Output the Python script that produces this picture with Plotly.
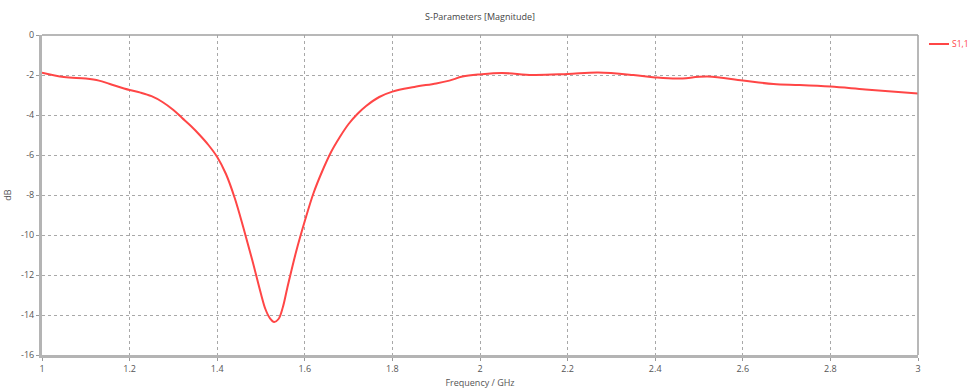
import plotly.graph_objects as go

freq_ghz = [1.00, 1.05, 1.10, 1.13, 1.155, 1.20, 1.225, 1.25, 1.275, 1.30, 1.32, 1.34,
            1.36, 1.38, 1.40, 1.42, 1.44, 1.46, 1.48, 1.50, 1.51, 1.52, 1.53, 1.54,
            1.55, 1.56, 1.58, 1.60, 1.62, 1.64, 1.66, 1.68, 1.70, 1.72, 1.74, 1.77,
            1.80, 1.85, 1.90, 1.93, 1.96, 2.00, 2.05, 2.12, 2.20, 2.27, 2.35, 2.40,
            2.45, 2.52, 2.60, 2.67, 2.73, 2.80, 2.88, 3.00]
s11_db = [-1.88, -2.10, -2.18, -2.28, -2.45, -2.75, -2.88, -3.06, -3.35, -3.75, -4.15, -4.55,
          -5.00, -5.50, -6.10, -6.95, -8.15, -9.65, -11.25, -12.95, -13.70, -14.15, -14.35, -14.20,
          -13.60, -12.65, -10.85, -9.30, -7.90, -6.80, -5.85, -5.10, -4.45, -3.95, -3.55, -3.10,
          -2.83, -2.60, -2.42, -2.28, -2.08, -1.97, -1.90, -2.00, -1.95, -1.88, -2.00, -2.12,
          -2.18, -2.08, -2.28, -2.45, -2.50, -2.58, -2.72, -2.92]
series_name = "S1,1"

x_ticks = [1, 1.2, 1.4, 1.6, 1.8, 2, 2.2, 2.4, 2.6, 2.8, 3]
x_tick_labels = ["1", "1.2", "1.4", "1.6", "1.8", "2", "2.2", "2.4", "2.6", "2.8", "3"]
y_ticks = [0, -2, -4, -6, -8, -10, -12, -14, -16]
y_tick_labels = ["0", "-2", "-4", "-6", "-8", "-10", "-12", "-14", "-16"]

FONT = "Open Sans"
TXT = "#555555"
RED = "#ff4646"
W, H = 969, 389
ML, MR, MT, MB = 42, 51, 35, 34
PW, PH = W - ML - MR, H - MT - MB


def px_x(px):
    return (px - ML) / PW


def px_y(py):
    return (H - MB - py) / PH


fig = go.Figure()
fig.add_trace(go.Scatter(
    x=freq_ghz, y=s11_db, mode="lines", name=series_name,
    line=dict(color=RED, width=2, shape="spline", smoothing=1.0),
))

fig.update_layout(
    width=W, height=H,
    margin=dict(l=ML, r=MR, t=MT, b=MB, autoexpand=False),
    paper_bgcolor="white", plot_bgcolor="white",
    title=dict(text="S-Parameters [Magnitude]", x=0.5, xref="paper", y=1 - 17 / H,
               yref="container", xanchor="center", yanchor="middle",
               font=dict(family=FONT, size=9, color="#444444")),
    showlegend=False,
    font=dict(family=FONT, size=9, color=TXT),
)

fig.update_xaxes(
    range=[1, 3], tickvals=x_ticks, ticktext=x_tick_labels,
    showgrid=True, gridcolor="#a8a8a8", griddash="dot", gridwidth=1,
    showline=True, linecolor="#b4b4b4", linewidth=3,
    ticks="outside", ticklen=3, tickcolor="#999999",
    zeroline=False,
    title=dict(text="Frequency / GHz", standoff=10, font=dict(family=FONT, size=9, color=TXT)),
    tickfont=dict(family=FONT, size=9, color=TXT),
)
fig.update_yaxes(
    range=[-16, 0], tickvals=y_ticks, ticktext=y_tick_labels,
    showgrid=True, gridcolor="#a8a8a8", griddash="dot", gridwidth=1,
    showline=True, linecolor="#b4b4b4", linewidth=3,
    ticks="outside", ticklen=3, tickcolor="#999999",
    zeroline=False,
    title=dict(text="dB", standoff=8, font=dict(family=FONT, size=9, color=TXT)),
    tickfont=dict(family=FONT, size=9, color=TXT),
)

# thin top/right frame
fig.add_shape(type="line", xref="paper", yref="paper", x0=0, x1=1, y0=1, y1=1,
              line=dict(color="#a0a0a0", width=1.5))
fig.add_shape(type="line", xref="paper", yref="paper", x0=1, x1=1, y0=0, y1=1,
              line=dict(color="#a0a0a0", width=1.5))

# legend entry (line sample + label)
fig.add_shape(type="line", xref="paper", yref="paper",
              x0=px_x(929), x1=px_x(949), y0=px_y(44), y1=px_y(44),
              line=dict(color=RED, width=2))
fig.add_annotation(text=series_name, xref="paper", yref="paper",
                   x=px_x(951), y=px_y(44), xanchor="left", yanchor="middle",
                   showarrow=False, borderpad=0,
                   font=dict(family=FONT, size=8.5, color=RED))

fig.write_html("out.html")
